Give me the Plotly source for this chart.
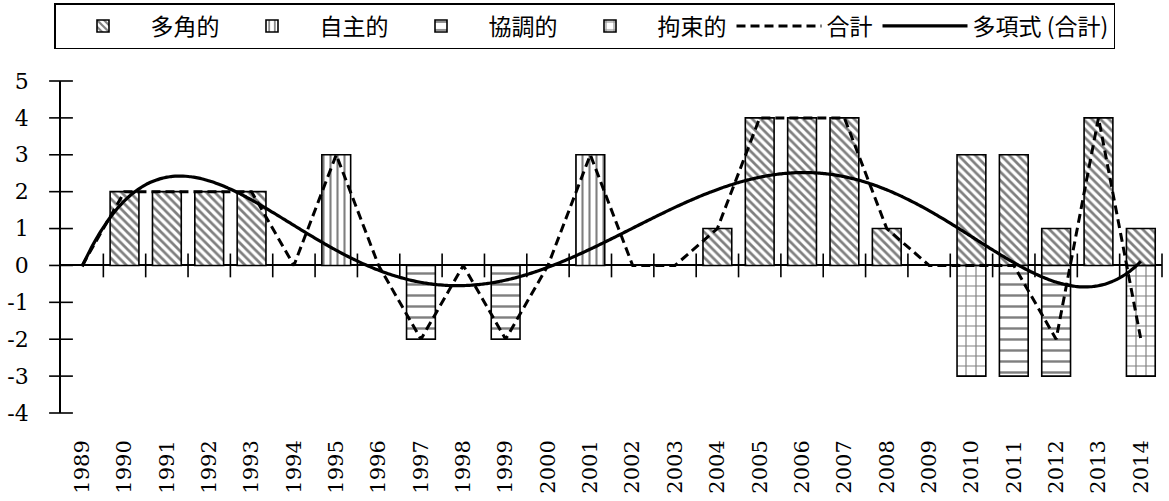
import numpy as np
import plotly.graph_objects as go

# Yearly scores by policy type (1989-2014)
years = list(range(1989, 2015))
multilateral = [0, 2, 2, 2, 2, 0, 0, 0, 0, 0, 0, 0, 0, 0, 0, 1, 4, 4, 4, 1, 0, 3, 3, 1, 4, 1]
autonomous = [0, 0, 0, 0, 0, 0, 3, 0, 0, 0, 0, 0, 3, 0, 0, 0, 0, 0, 0, 0, 0, 0, 0, 0, 0, 0]
cooperative = [0, 0, 0, 0, 0, 0, 0, 0, -2, 0, -2, 0, 0, 0, 0, 0, 0, 0, 0, 0, 0, 0, -3, -3, 0, 0]
restrictive = [0, 0, 0, 0, 0, 0, 0, 0, 0, 0, 0, 0, 0, 0, 0, 0, 0, 0, 0, 0, 0, -3, 0, 0, 0, -3]

series_names = ["多角的", "自主的", "協調的", "拘束的"]
total_name = "合計"
trend_name = "多項式 (合計)"
y_ticks = [-4, -3, -2, -1, 0, 1, 2, 3, 4, 5]
y_tick_text = ["-4", "-3", "-2", "-1", "0", "1", "2", "3", "4", "5"]

series = [multilateral, autonomous, cooperative, restrictive]
patterns = [
    dict(shape="\\", size=6, solidity=0.45),
    dict(shape="|", size=7, solidity=0.3),
    dict(shape="-", size=11, solidity=0.22),
    dict(shape="+", size=10, solidity=0.22),
]

total = [sum(v) for v in zip(*series)]

# Polynomial trendline (order 5) over the category index, as in a spreadsheet trendline
idx = np.arange(1, len(years) + 1)
coef = np.polyfit(idx, total, 5)
fine_idx = np.linspace(1, len(years), 400)
fine_years = years[0] + fine_idx - 1
trend = np.polyval(coef, fine_idx)

SERIF = "DejaVu Serif"
CJK = "Noto Sans CJK JP"

fig = go.Figure()

for name, vals, pat in zip(series_names, series, patterns):
    fig.add_trace(go.Bar(
        x=years,
        y=[v if v != 0 else None for v in vals],
        name=name,
        width=0.68,
        marker=dict(
            color="white",
            line=dict(color="black", width=1.6),
            pattern=dict(fgcolor="black", bgcolor="white", fillmode="overlay", **pat),
        ),
    ))

fig.add_trace(go.Scatter(
    x=years, y=total, name=total_name, mode="lines",
    line=dict(color="black", width=3, dash="9px,5px"),
))

fig.add_trace(go.Scatter(
    x=fine_years, y=trend, name=trend_name, mode="lines",
    line=dict(color="black", width=3.2, shape="spline"),
))

# Cross-style tick marks on the category axis (at y = 0) and on the value axis
bounds = [y + 0.5 for y in years]
fig.add_trace(go.Scatter(
    x=bounds, y=[0] * len(bounds), mode="markers", showlegend=False, hoverinfo="skip",
    cliponaxis=False,
    marker=dict(symbol="line-ns", size=17, line=dict(color="black", width=1.6)),
))
fig.add_trace(go.Scatter(
    x=[years[0] - 0.5] * len(y_ticks), y=y_ticks, mode="markers", showlegend=False,
    hoverinfo="skip", cliponaxis=False,
    marker=dict(symbol="line-ew", size=17, line=dict(color="black", width=1.6)),
))

fig.update_layout(
    width=1169, height=501,
    margin=dict(l=53, r=7, t=81, b=78),
    paper_bgcolor="white", plot_bgcolor="white",
    barmode="relative",
    showlegend=True,
    legend=dict(
        orientation="h",
        xref="container", yref="container",
        x=0.5, xanchor="center", y=1 - 3 / 501, yanchor="top",
        font=dict(family=CJK, size=23, color="black"),
        bordercolor="black", borderwidth=1.5,
        itemwidth=85,
        traceorder="normal",
    ),
    xaxis=dict(
        range=[years[0] - 0.5, years[-1] + 0.5],
        tickmode="array", tickvals=years, ticktext=[str(y) for y in years],
        tickangle=-90, ticks="", showgrid=False, showline=False, zeroline=False,
        tickfont=dict(family=SERIF, size=21, color="black"),
        ticklabelstandoff=22,
    ),
    yaxis=dict(
        range=[-4, 5],
        tickmode="array", tickvals=y_ticks, ticktext=y_tick_text,
        ticks="", showgrid=False,
        showline=True, linecolor="black", linewidth=1.6,
        zeroline=True, zerolinecolor="black", zerolinewidth=1.6,
        tickfont=dict(family=SERIF, size=22, color="black"),
        ticklabelstandoff=26,
    ),
)

fig.write_html("out.html")
